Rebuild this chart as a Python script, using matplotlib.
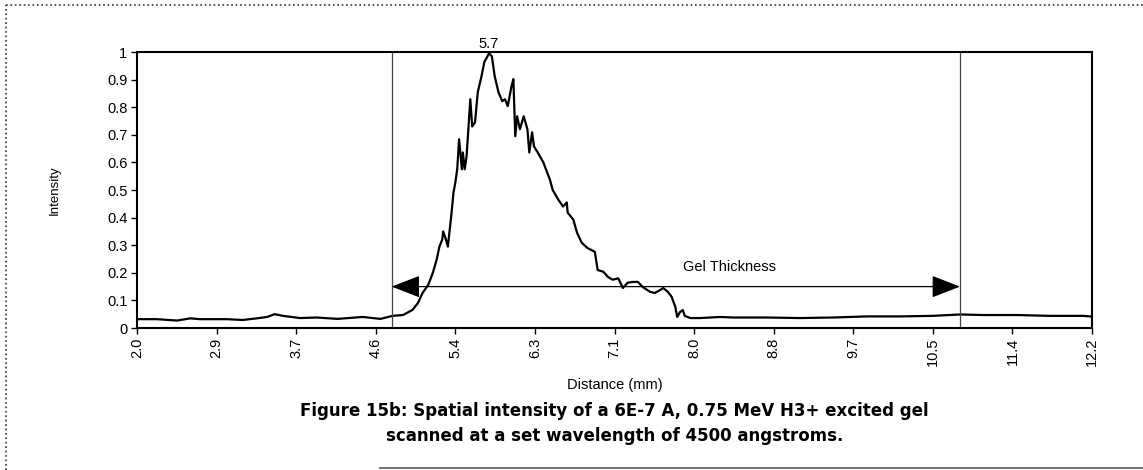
import matplotlib
matplotlib.use("Agg")
import matplotlib.pyplot as plt
from matplotlib.lines import Line2D
import numpy as np

# distance (mm) and normalised intensity
distance = [2.01, 2.21, 2.43, 2.57, 2.67, 2.96, 3.13, 3.28, 3.39, 3.47, 3.56, 3.74, 3.92, 4.14,
            4.41, 4.60, 4.73, 4.84, 4.94, 5.00, 5.05, 5.11, 5.16, 5.20, 5.23, 5.26, 5.27, 5.30,
            5.32, 5.34, 5.36, 5.38, 5.40, 5.42, 5.44, 5.47, 5.48, 5.50, 5.52, 5.56, 5.58, 5.61,
            5.64, 5.68, 5.71, 5.74, 5.76, 5.79, 5.82, 5.86, 5.90, 5.93, 5.96, 6.00, 6.02, 6.04,
            6.06, 6.09, 6.13, 6.17, 6.19, 6.22, 6.24, 6.28, 6.34, 6.38, 6.41, 6.44, 6.50, 6.55,
            6.59, 6.60, 6.66, 6.70, 6.75, 6.81, 6.89, 6.92, 6.98, 7.03, 7.08, 7.14, 7.19, 7.24,
            7.30, 7.35, 7.40, 7.48, 7.53, 7.59, 7.62, 7.67, 7.71, 7.75, 7.77, 7.80, 7.83, 7.85,
            7.91, 8.01, 8.23, 8.37, 8.73, 9.08, 9.43, 9.80, 10.15, 10.50, 10.79, 11.04, 11.40,
            11.75, 12.10, 12.18]
intensity = [0.032, 0.032, 0.027, 0.035, 0.032, 0.032, 0.029, 0.035, 0.040, 0.050, 0.044, 0.036,
             0.038, 0.033, 0.040, 0.033, 0.044, 0.047, 0.065, 0.090, 0.127, 0.156, 0.200, 0.247,
             0.295, 0.320, 0.350, 0.320, 0.295, 0.356, 0.418, 0.490, 0.527, 0.575, 0.684, 0.575,
             0.636, 0.575, 0.622, 0.829, 0.730, 0.745, 0.855, 0.913, 0.964, 0.982, 0.995, 0.985,
             0.913, 0.855, 0.822, 0.829, 0.804, 0.876, 0.902, 0.695, 0.767, 0.720, 0.767, 0.720,
             0.636, 0.709, 0.658, 0.636, 0.600, 0.564, 0.538, 0.500, 0.465, 0.440, 0.455, 0.418,
             0.393, 0.345, 0.309, 0.290, 0.276, 0.210, 0.204, 0.185, 0.175, 0.180, 0.145, 0.164,
             0.167, 0.167, 0.149, 0.131, 0.127, 0.138, 0.145, 0.131, 0.113, 0.076, 0.040, 0.058,
             0.065, 0.044, 0.036, 0.036, 0.040, 0.038, 0.038, 0.036, 0.038, 0.042, 0.042, 0.044,
             0.049, 0.047, 0.047, 0.044, 0.044, 0.042]

gel_start = 4.72
gel_end = 10.79
arrow_y = 0.15
peak_x = 5.76
peak_label = "5.7"

xticks = np.arange(0, 13) * 0.85 + 2.0
xticklabels = ["%.1f" % v for v in [2.0, 2.9, 3.7, 4.6, 5.4, 6.3, 7.1, 8.0, 8.8, 9.7, 10.5, 11.4, 12.2]]
yticks = np.arange(0, 11) * 0.1
yticklabels = ["0", "0.1", "0.2", "0.3", "0.4", "0.5", "0.6", "0.7", "0.8", "0.9", "1"]

plt.rcParams['font.family'] = ['Liberation Sans', 'DejaVu Sans']

fig = plt.figure(figsize=(11.43, 4.70), dpi=100)
ax = fig.add_axes([137/1143, 1 - 328/470, 955/1143, 276/470])

ax.plot(distance, intensity, color='black', lw=1.6)
ax.axvline(gel_start, color='#444444', lw=0.9)
ax.axvline(gel_end, color='#444444', lw=0.9)
ax.annotate("", xy=(gel_start, arrow_y), xytext=(gel_end, arrow_y),
            arrowprops=dict(arrowstyle='<|-|>,head_length=1.8,head_width=0.7',
                            mutation_scale=10, color='black', lw=0.9,
                            shrinkA=0, shrinkB=0))
ax.text(8.33, 0.22, "Gel Thickness", ha='center', va='center', fontsize=10.5)
ax.text(peak_x, 1.005, peak_label, ha='center', va='bottom', fontsize=10.5)

ax.set_xlim(2.0, 12.2)
ax.set_ylim(0, 1)
ax.set_xticks(xticks)
ax.set_xticklabels(xticklabels, rotation=90, fontsize=10.5)
ax.set_yticks(yticks)
ax.set_yticklabels(yticklabels, fontsize=10.5)
ax.tick_params(direction='out', length=4, width=1, pad=3)
for s in ax.spines.values():
    s.set_linewidth(1.5)

fig.text(55/1143, 1 - 190/470, "Intensity", rotation=90, ha='center', va='center', fontsize=9.5)
cx = (137 + 1092) / 2 / 1143
fig.text(cx, 1 - 385/470, "Distance (mm)", ha='center', va='center', fontsize=10.5)
fig.text(cx, 1 - 411/470, "Figure 15b: Spatial intensity of a 6E-7 A, 0.75 MeV H3+ excited gel",
         ha='center', va='center', fontsize=12, fontweight='bold', family='DejaVu Sans')
fig.text(cx, 1 - 436/470, "scanned at a set wavelength of 4500 angstroms.",
         ha='center', va='center', fontsize=12, fontweight='bold', family='DejaVu Sans')

# dotted page border and the rule at the bottom
fig.add_artist(Line2D([6/1143, 1], [1 - 5/470, 1 - 5/470], transform=fig.transFigure,
                      color='#333333', lw=1.2, ls=':'))
fig.add_artist(Line2D([6/1143, 6/1143], [0, 1 - 5/470], transform=fig.transFigure,
                      color='#333333', lw=1.2, ls=':'))
fig.add_artist(Line2D([380/1143, 1], [1 - 468/470, 1 - 468/470], transform=fig.transFigure,
                      color='#777777', lw=1.5))

fig.savefig("out.png", dpi=100)
